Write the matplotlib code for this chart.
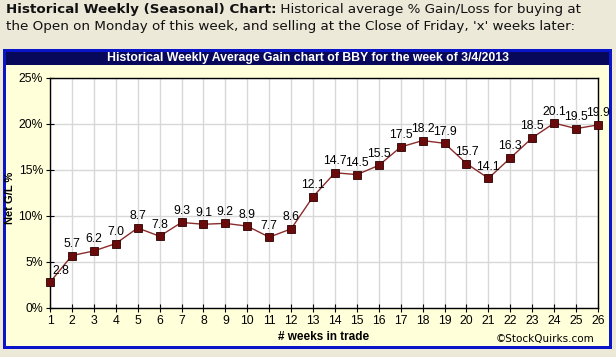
import matplotlib.pyplot as plt
from matplotlib.patches import Rectangle

# Dados
semanas = list(range(1, 27))
ganho = [2.8, 5.7, 6.2, 7.0, 8.7, 7.8, 9.3, 9.1, 9.2, 8.9, 7.7, 8.6, 12.1,
         14.7, 14.5, 15.5, 17.5, 18.2, 17.9, 15.7, 14.1, 16.3, 18.5, 20.1,
         19.5, 19.9]
rotulos = ["2.8", "5.7", "6.2", "7.0", "8.7", "7.8", "9.3", "9.1", "9.2", "8.9",
           "7.7", "8.6", "12.1", "14.7", "14.5", "15.5", "17.5", "18.2", "17.9",
           "15.7", "14.1", "16.3", "18.5", "20.1", "19.5", "19.9"]
yticks = [0, 5, 10, 15, 20, 25]

W, H = 616, 357
fig = plt.figure(figsize=(W / 100, H / 100), dpi=100)
fig.patch.set_facecolor("#ECE9D8")

def box(x0, y0, x1, y1, **kw):
    # pixels -> coordenadas da figura (y a partir do topo)
    fig.patches.append(Rectangle((x0 / W, 1 - y1 / H), (x1 - x0) / W, (y1 - y0) / H,
                                 transform=fig.transFigure, zorder=-10, **kw))

box(3, 49, 612, 349, facecolor="#0A14C8", edgecolor="none")
box(6, 52, 609, 346, facecolor="#FFFFD9", edgecolor="none")
box(6, 52, 609, 65, facecolor="#08085A", edgecolor="none")

# Cabeçalho
fs = 9.7
t1 = fig.text(6 / W, 1 - 3 / H, "Historical Weekly (Seasonal) Chart:", fontsize=fs,
              fontweight="bold", va="top", color="#111111")
fig.canvas.draw()
bb = t1.get_window_extent()
fig.text(bb.x1 / W, 1 - 3 / H, " Historical average % Gain/Loss for buying at",
         fontsize=fs, va="top", color="#111111")
fig.text(6 / W, 1 - 20 / H,
         "the Open on Monday of this week, and selling at the Close of Friday, 'x' weeks later:",
         fontsize=fs, va="top", color="#111111")
fig.text(308 / W, 1 - 58.5 / H, "Historical Weekly Average Gain chart of BBY for the week of 3/4/2013",
         fontsize=8.8, fontweight="bold", color="white", ha="center", va="center",
         family="Liberation Sans")

ax = fig.add_axes([50 / W, 1 - 308 / H, (598 - 50) / W, (308 - 78) / H])
ax.set_facecolor("white")
ax.plot(semanas, ganho, color="#8B2C2C", lw=1, marker="s", markersize=5.5,
        markerfacecolor="#6B0A0A", markeredgecolor="#2A0000", markeredgewidth=0.6,
        zorder=3, clip_on=False)
for i, (x, y, t) in enumerate(zip(semanas, ganho, rotulos)):
    dx = 8 if i == 0 else 0
    ax.annotate(t, (x, y), xytext=(dx, 4), textcoords="offset points",
                ha="center", va="bottom", fontsize=8.8, color="black", zorder=4,
                family="Liberation Sans")

ax.set_xlim(1, 26)
ax.set_ylim(0, 25)
ax.set_xticks(semanas)
ax.set_yticks(yticks)
ax.set_yticklabels([f"{v}%" for v in yticks])
ax.tick_params(labelsize=8.8, length=6, width=0.8, color="black", pad=2,
               direction="inout", labelfontfamily="Liberation Sans")
ax.grid(True, color="#D8D8D8", lw=1)
ax.set_axisbelow(True)
for s in ax.spines.values():
    s.set_color("black")
    s.set_linewidth(1)

ax.set_xlabel("# weeks in trade", fontsize=8.5, fontweight="bold",
              family="Liberation Sans")
ax.xaxis.set_label_coords(0.5, -23 / 230)
ax.set_ylabel("Net G/L %", fontsize=8, fontweight="bold", family="Liberation Sans")
ax.yaxis.set_label_coords(-35 / 548, 0.48)
fig.text(594 / W, 1 - 339 / H, "©StockQuirks.com", fontsize=7.5, ha="right",
         va="center", color="black")

fig.savefig("out.png", dpi=100, facecolor=fig.get_facecolor())
